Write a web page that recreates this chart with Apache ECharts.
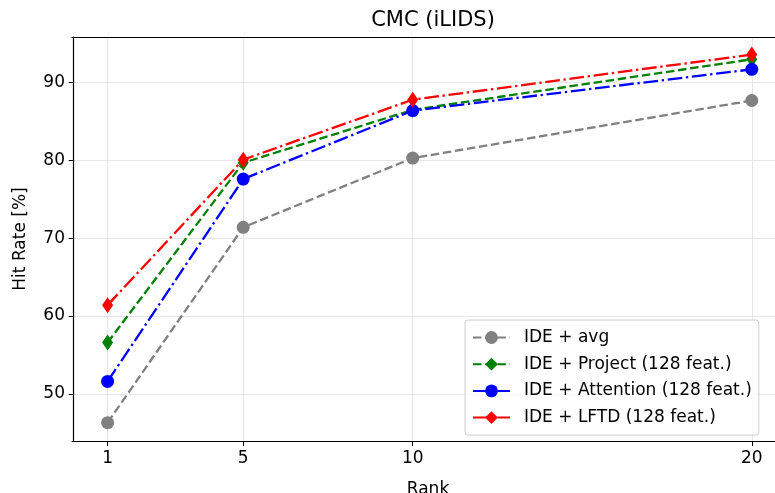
<!DOCTYPE html>
<html>
<head>
<meta charset="utf-8">
<script src="https://cdn.jsdelivr.net/npm/echarts@6/dist/echarts.min.js"></script>
<style>
  html, body { margin: 0; padding: 0; background: #fff; }
  #chart { width: 775px; height: 493px; }
</style>
</head>
<body>
<div id="chart"></div>
<script>
// rank positions on the x axis
const ranks = [1, 5, 10, 20]
const yTicks = [50, 60, 70, 80, 90]

const names = [
  'IDE + avg',
  'IDE + Project (128 feat.)',
  'IDE + Attention (128 feat.)',
  'IDE + LFTD (128 feat.)'
]
const avg = [46.3, 71.4, 80.3, 87.7]
const project = [56.6, 79.7, 86.5, 93.0]
const attention = [51.6, 77.6, 86.4, 91.7]
const lftd = [61.4, 80.1, 87.8, 93.6]

const font = 'DejaVu Sans'
const dashed = [8.5, 3.7]
const dashDot = [14.7, 3.7, 2.3, 3.7]

const pairs = (vals) => ranks.map((r, i) => [r, vals[i]])

const mkSeries = (name, vals, color, dash, symbol, size) => ({
  name: name,
  type: 'line',
  data: pairs(vals),
  xAxisIndex: 0,
  symbol: symbol,
  symbolSize: size,
  itemStyle: { color: color },
  lineStyle: { color: color, width: 2.3, type: dash },
  emphasis: { disabled: true }
})

const chart = echarts.init(document.getElementById('chart'))
chart.setOption({
  animation: false,
  title: {
    text: 'CMC (iLIDS)',
    left: 428,
    top: 5,
    textAlign: 'center',
    textStyle: { fontFamily: font, fontSize: 21, fontWeight: 'normal', color: '#000' }
  },
  grid: { left: 72, top: 37, right: -9, bottom: 52, outerBoundsMode: 'none', containLabel: false },
  xAxis: [{
    type: 'value',
    min: -0.05,
    max: 20.95,
    name: 'Rank',
    nameLocation: 'middle',
    nameGap: 40,
    nameTextStyle: { fontFamily: font, fontSize: 17, color: '#000' },
    axisLine: { show: true, onZero: false, lineStyle: { color: '#000', width: 1.2 } },
    axisTick: { show: true, customValues: ranks, length: 5, lineStyle: { color: '#000' } },
    axisLabel: { customValues: ranks, fontFamily: font, fontSize: 17, color: '#000', margin: 9 },
    splitLine: { show: true, lineStyle: { color: '#e6e6e6', width: 1 } }
  }, {
    type: 'value',
    position: 'top',
    min: -0.05,
    max: 20.95,
    axisLine: { show: true, onZero: false, lineStyle: { color: '#000', width: 1.2 } },
    axisTick: { show: false },
    axisLabel: { show: false },
    splitLine: { show: false }
  }],
  yAxis: {
    type: 'value',
    min: 43.94,
    max: 95.86,
    name: 'Hit Rate [%]',
    nameLocation: 'middle',
    nameGap: 43,
    nameTextStyle: { fontFamily: font, fontSize: 17, color: '#000' },
    axisLine: { show: true, lineStyle: { color: '#000', width: 1.2 } },
    axisTick: { show: true, customValues: yTicks, length: 5, lineStyle: { color: '#000' } },
    axisLabel: { customValues: yTicks, fontFamily: font, fontSize: 17, color: '#000', margin: 7 },
    splitLine: { show: true, lineStyle: { color: '#e6e6e6', width: 1 } }
  },
  legend: {
    orient: 'vertical',
    left: 465,
    top: 320,
    padding: [9, 7, 9, 7],
    itemGap: 9.7,
    itemWidth: 37,
    itemHeight: 16,
    backgroundColor: 'rgba(255,255,255,0.8)',
    borderColor: '#cccccc',
    borderWidth: 1,
    borderRadius: 3,
    textStyle: { fontFamily: font, fontSize: 17, color: '#000', lineHeight: 17, padding: [0, 0, 0, 9] },
    data: names
  },
  series: [
    mkSeries(names[0], avg, '#808080', dashed, 'circle', 13),
    mkSeries(names[1], project, '#008000', dashed, 'diamond', [11, 16]),
    mkSeries(names[2], attention, '#0000ff', dashDot, 'circle', 13),
    mkSeries(names[3], lftd, '#ff0000', dashDot, 'diamond', [11, 16])
  ]
})
</script>
</body>
</html>
